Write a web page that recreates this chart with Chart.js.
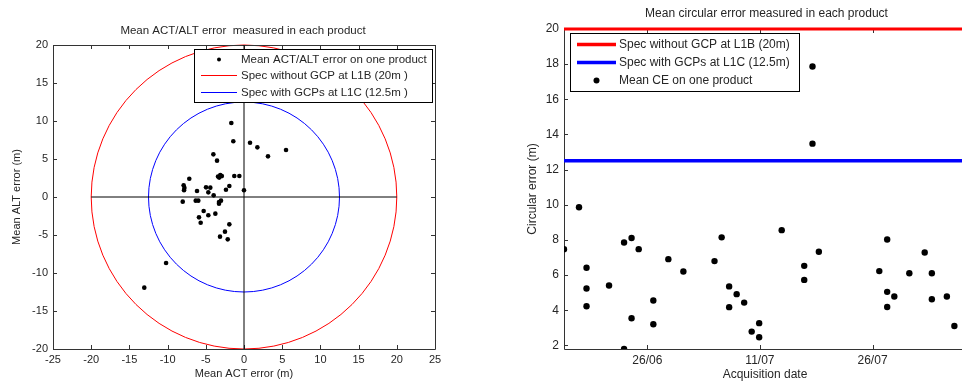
<!DOCTYPE html>
<html><head><meta charset="utf-8">
<script src="https://cdn.jsdelivr.net/npm/chart.js@4.4.1/dist/chart.umd.min.js"></script>
<style>
html,body{margin:0;padding:0;background:#fff;overflow:hidden;width:962px;height:382px;position:relative;}
#c1{position:absolute;left:0;top:0;}
#c2{position:absolute;left:480px;top:0;}
</style></head><body>
<canvas id="c1" width="480" height="382"></canvas>
<canvas id="c2" width="490" height="382"></canvas>
<script>
// ---------- Left chart data ----------
const actError = [-1.66,-1.4,0.79,1.75,3.14,5.5,-4.01,-3.53,-3.4,-3.1,-2.9,-3.25,-1.27,-0.61,-7.16,-7.9,-7.8,-7.85,-6.15,-4.97,-4.41,-4.67,-3.97,-2.36,-1.92,0.0,-8.02,-6.32,-5.98,-3.27,-3.01,-3.27,-5.28,-5.89,-4.67,-3.75,-5.67,-1.92,-2.49,-3.14,-2.13,-10.2,-13.05];
const altError = [9.74,7.33,7.14,6.53,5.35,6.18,5.61,4.78,2.7,2.9,2.75,2.55,2.76,2.76,2.41,1.55,1.2,0.9,0.79,1.27,1.23,0.61,0.22,0.96,1.45,0.88,-0.61,-0.48,-0.48,-0.66,-0.48,-0.88,-1.84,-2.68,-2.41,-2.19,-3.38,-3.6,-4.56,-5.22,-5.57,-8.68,-11.93];
const specRadii = [20, 12.5];
const specColors = ['#ff0000', '#0000ff'];
const leftLegendLabels = ['Mean ACT/ALT error on one product', 'Spec without GCP at L1B (20m )', 'Spec with GCPs at L1C (12.5m )'];
const leftTicks = [-25,-20,-15,-10,-5,0,5,10,15,20,25];

// ---------- Right chart data ----------
// acquisition day counted from 31 May (26 = 26/06, 41 = 11/07, 56 = 26/07)
const acqDay = [14.9,16.9,17.9,17.9,17.9,20.9,22.9,23.9,24.85,22.9,23.9,26.8,26.8,28.8,30.8,34.95,35.9,36.9,36.9,37.9,38.9,39.9,40.9,40.9,43.9,46.9,46.9,48.0,48.0,48.85,56.9,57.95,57.95,57.95,58.9,60.9,62.95,63.9,63.9,65.9,66.9];
const meanCE = [7.48,9.86,6.42,5.24,4.23,5.41,7.86,8.11,7.48,1.8,3.55,4.56,3.21,6.91,6.21,6.8,8.15,5.36,4.18,4.92,4.44,2.79,3.27,2.47,8.56,6.53,5.73,17.87,13.48,7.33,6.23,8.03,5.05,4.19,4.79,6.11,7.29,6.11,4.63,4.79,3.11];
const specCE = [20, 12.5];
const rightLegendLabels = ['Spec without GCP at L1B (20m)', 'Spec with GCPs at L1C (12.5m)', 'Mean CE on one product'];
const dateTickDays = [26, 41, 56];
const dateTickLabels = ['26/06', '11/07', '26/07'];
const ceTicks = [2,4,6,8,10,12,14,16,18,20];

const FONT = "'Liberation Sans', Arial, sans-serif";
const TXT = '#262626';

// ---------- plugins ----------
function boxAxes() {
  return {
    id: 'boxAxes',
    beforeDatasetsDraw(chart) {
      const {ctx, chartArea: a, scales: {x, y}} = chart;
      ctx.save();
      ctx.strokeStyle = '#333';
      ctx.lineWidth = 1;
      ctx.beginPath();
      ctx.moveTo(a.left + 0.5, a.top + 0.5);
      ctx.lineTo(a.left + 0.5, a.bottom + 0.5);
      ctx.lineTo(a.right + 0.5, a.bottom + 0.5);
      ctx.moveTo(a.left + 0.5, a.top + 0.5);
      ctx.lineTo(a.right + 0.5, a.top + 0.5);
      ctx.lineTo(a.right + 0.5, a.bottom + 0.5);
      ctx.stroke();
      const L = 4;
      ctx.beginPath();
      x.ticks.forEach(t => {
        const px = Math.round(x.getPixelForValue(t.value)) + 0.5;
        ctx.moveTo(px, a.bottom); ctx.lineTo(px, a.bottom - L);
        ctx.moveTo(px, a.top); ctx.lineTo(px, a.top + L);
      });
      y.ticks.forEach(t => {
        const py = Math.round(y.getPixelForValue(t.value)) + 0.5;
        ctx.moveTo(a.left, py); ctx.lineTo(a.left + L, py);
        ctx.moveTo(a.right, py); ctx.lineTo(a.right - L, py);
      });
      ctx.stroke();
      ctx.restore();
    }
  };
}
function titlePlugin(text, cx, cy, font) {
  return {
    id: 'ttl',
    afterDraw(chart) {
      const ctx = chart.ctx;
      ctx.save();
      ctx.font = font;
      ctx.fillStyle = TXT;
      ctx.textAlign = 'center';
      ctx.textBaseline = 'middle';
      ctx.fillText(text, cx, cy);
      ctx.restore();
    }
  };
}
function legendPlugin(cfg) {
  return {
    id: 'lgd',
    afterDraw(chart) {
      const ctx = chart.ctx;
      ctx.save();
      ctx.fillStyle = '#fff';
      ctx.fillRect(cfg.x, cfg.y, cfg.w, cfg.h);
      ctx.strokeStyle = '#000';
      ctx.lineWidth = 1;
      ctx.strokeRect(cfg.x + 0.5, cfg.y + 0.5, cfg.w, cfg.h);
      ctx.font = cfg.font;
      ctx.textBaseline = 'middle';
      ctx.textAlign = 'left';
      cfg.items.forEach((it, i) => {
        const yy = cfg.rows[i];
        if (it.kind === 'line') {
          ctx.strokeStyle = it.color;
          ctx.lineWidth = it.width;
          ctx.beginPath();
          ctx.moveTo(cfg.sx0, yy); ctx.lineTo(cfg.sx1, yy);
          ctx.stroke();
        } else {
          ctx.fillStyle = '#000';
          ctx.beginPath();
          ctx.arc((cfg.sx0 + cfg.sx1) / 2, yy, it.r, 0, Math.PI * 2);
          ctx.fill();
        }
        ctx.fillStyle = TXT;
        ctx.fillText(it.text, cfg.tx, yy);
      });
      ctx.restore();
    }
  };
}
const circlesPlugin = {
  id: 'circles',
  beforeDatasetsDraw(chart) {
    const {ctx, scales: {x, y}} = chart;
    const cx = x.getPixelForValue(0), cy = y.getPixelForValue(0);
    ctx.save();
    specRadii.forEach((r, i) => {
      const rx = x.getPixelForValue(r) - cx;
      const ry = cy - y.getPixelForValue(r);
      ctx.strokeStyle = specColors[i];
      ctx.lineWidth = 1;
      ctx.beginPath();
      ctx.ellipse(cx, cy, rx, ry, 0, 0, Math.PI * 2);
      ctx.stroke();
    });
    ctx.restore();
  }
};

function fixedTicks(values) {
  return function (scale) { scale.ticks = values.map(v => ({value: v})); };
}

// ---------- Left chart ----------
const R = specRadii[0];
new Chart(document.getElementById('c1'), {
  type: 'scatter',
  data: {
    datasets: [
      {label: 'hline', data: [{x: -R, y: 0}, {x: R, y: 0}], showLine: true, borderColor: '#000', borderWidth: 1, pointRadius: 0},
      {label: 'vline', data: [{x: 0, y: -R}, {x: 0, y: R}], showLine: true, borderColor: '#000', borderWidth: 1, pointRadius: 0},
      {label: leftLegendLabels[0], data: actError.map((v, i) => ({x: v, y: altError[i]})), pointRadius: 2.3, pointBackgroundColor: '#000', pointBorderWidth: 0}
    ]
  },
  options: {
    responsive: false, animation: false, devicePixelRatio: 1, events: [],
    layout: {padding: {left: 4, top: 45, right: 45, bottom: 0}},
    plugins: {legend: {display: false}, tooltip: {enabled: false}},
    scales: {
      x: {
        type: 'linear', min: -25, max: 25,
        afterBuildTicks: fixedTicks(leftTicks),
        afterFit(s) { s.height = 33; },
        grid: {display: false, drawTicks: false, tickLength: 0}, border: {display: false},
        ticks: {padding: 4, autoSkip: false, maxRotation: 0, color: TXT, font: {family: FONT, size: 11}},
        title: {display: true, text: 'Mean ACT error (m)', color: TXT, font: {family: FONT, size: 11, lineHeight: 1.2}, padding: {top: 0, bottom: 1}}
      },
      y: {
        type: 'linear', min: -20, max: 20,
        afterBuildTicks: fixedTicks(leftTicks.filter(v => v >= -20 && v <= 20)),
        afterFit(s) { s.width = 49; },
        grid: {display: false, drawTicks: false, tickLength: 0}, border: {display: false},
        ticks: {padding: 5, autoSkip: false, color: TXT, font: {family: FONT, size: 11}},
        title: {display: true, text: 'Mean ALT error (m)', color: TXT, font: {family: FONT, size: 11, lineHeight: 1.2}, padding: {top: 6, bottom: 0}}
      }
    }
  },
  plugins: [
    circlesPlugin,
    boxAxes(),
    titlePlugin('Mean ACT/ALT error  measured in each product', 243, 31, "11.5px " + FONT),
    legendPlugin({
      x: 194, y: 49, w: 238, h: 53, font: "11.5px " + FONT,
      sx0: 201, sx1: 237, tx: 241, rows: [59.5, 75.5, 92.5],
      items: [
        {kind: 'dot', r: 2, text: leftLegendLabels[0]},
        {kind: 'line', color: specColors[0], width: 1, text: leftLegendLabels[1]},
        {kind: 'line', color: specColors[1], width: 1, text: leftLegendLabels[2]}
      ]
    })
  ]
});

// ---------- Right chart ----------
const xMin = 14.9, xMax = 68.45;
new Chart(document.getElementById('c2'), {
  type: 'scatter',
  data: {
    datasets: [
      {label: rightLegendLabels[0], data: [{x: xMin, y: specCE[0]}, {x: xMax, y: specCE[0]}], showLine: true, borderColor: '#ff0000', borderWidth: 3, pointRadius: 0, clip: false},
      {label: rightLegendLabels[1], data: [{x: xMin, y: specCE[1]}, {x: xMax, y: specCE[1]}], showLine: true, borderColor: '#0000ff', borderWidth: 3.5, pointRadius: 0, clip: false},
      {label: rightLegendLabels[2], data: acqDay.map((d, i) => ({x: d, y: meanCE[i]})), pointRadius: 3.2, pointBackgroundColor: '#000', pointBorderWidth: 0}
    ]
  },
  options: {
    responsive: false, animation: false, devicePixelRatio: 1, events: [],
    layout: {padding: {left: 30, top: 29, right: 2, bottom: 0}},
    plugins: {legend: {display: false}, tooltip: {enabled: false}},
    scales: {
      x: {
        type: 'linear', min: xMin, max: xMax,
        afterBuildTicks: fixedTicks(dateTickDays),
        afterFit(s) { s.height = 33; },
        grid: {display: false, drawTicks: false, tickLength: 0}, border: {display: false},
        ticks: {padding: 4, autoSkip: false, maxRotation: 0, color: TXT, font: {family: FONT, size: 12},
          callback: (v) => { const i = dateTickDays.indexOf(v); return i >= 0 ? dateTickLabels[i] : ''; }},
        title: {display: true, text: 'Acquisition date', color: TXT, font: {family: FONT, size: 12, lineHeight: 1.2}, padding: {top: 0, bottom: 0}}
      },
      y: {
        type: 'linear', min: 1.8, max: 20,
        afterBuildTicks: fixedTicks(ceTicks),
        afterFit(s) { s.width = 54; },
        grid: {display: false, drawTicks: false, tickLength: 0}, border: {display: false},
        ticks: {padding: 5, autoSkip: false, color: TXT, font: {family: FONT, size: 12}},
        title: {display: true, text: 'Circular error (m)', color: TXT, font: {family: FONT, size: 12, lineHeight: 1.2}, padding: {top: 15, bottom: 0}}
      }
    }
  },
  plugins: [
    boxAxes(),
    titlePlugin('Mean circular error measured in each product', 286.5, 14, "12px " + FONT),
    legendPlugin({
      x: 90, y: 33, w: 229, h: 58, font: "12px " + FONT,
      sx0: 97, sx1: 136, tx: 139, rows: [44.5, 62.5, 80.5],
      items: [
        {kind: 'line', color: '#ff0000', width: 3.5, text: rightLegendLabels[0]},
        {kind: 'line', color: '#0000ff', width: 3.5, text: rightLegendLabels[1]},
        {kind: 'dot', r: 3, text: rightLegendLabels[2]}
      ]
    })
  ]
});
</script>
</body></html>
